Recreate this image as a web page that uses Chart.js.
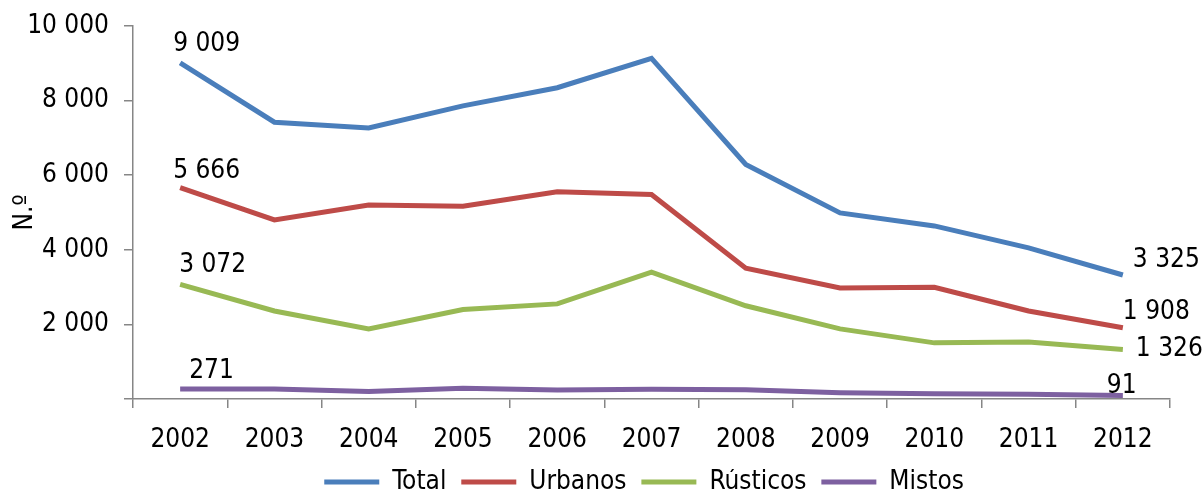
<!DOCTYPE html>
<html>
<head>
<meta charset="utf-8">
<script src="https://cdn.jsdelivr.net/npm/chart.js@4/dist/chart.umd.min.js"></script>
<style>
  html, body { margin: 0; padding: 0; background: #fff; }
  #wrap { width: 1203px; height: 495px; }
</style>
</head>
<body>
<div id="wrap"><canvas id="chart_predios" width="1203" height="495"></canvas></div>
<script>
// Data
var years = ['2002', '2003', '2004', '2005', '2006', '2007', '2008', '2009', '2010', '2011', '2012']
var total = [9009, 7420, 7265, 7860, 8345, 9135, 6290, 4990, 4640, 4050, 3325]
var urbanos = [5666, 4800, 5200, 5170, 5555, 5485, 3505, 2975, 2995, 2360, 1908]
var rusticos = [3072, 2360, 1880, 2400, 2550, 3400, 2500, 1880, 1505, 1530, 1326]
var mistos = [271, 265, 200, 285, 240, 260, 250, 170, 140, 130, 91]
var y_ticks = [0, 2000, 4000, 6000, 8000, 10000]

var colors = {
  blue: '#4A7EBB',
  red: '#BE4B48',
  green: '#98B954',
  purple: '#7D60A0',
  axis: '#868686'
}

var font_family = '"DejaVu Sans Condensed", "DejaVu Sans", sans-serif'
var font_size = 26

function fmt(n) {
  return String(n).replace(/\B(?=(\d{3})+(?!\d))/g, ' ')
}

// where the first / last value labels sit relative to their point
var label_offsets = [
  { first: [-7, -19], last: [10, -15] },
  { first: [-7, -16], last: [0, -16] },
  { first: [-1, -19], last: [13, 0] },
  { first: [9, -18], last: [-16, -9] }
]

var endLabels = {
  id: 'endLabels',
  afterDatasetsDraw(chart) {
    var ctx = chart.ctx
    ctx.save()
    ctx.font = font_size + 'px ' + font_family
    ctx.fillStyle = '#000'
    ctx.textAlign = 'left'
    ctx.textBaseline = 'middle'
    chart.data.datasets.forEach(function (ds, i) {
      var meta = chart.getDatasetMeta(i)
      var off = label_offsets[i]
      var p0 = meta.data[0]
      var pn = meta.data[meta.data.length - 1]
      ctx.fillText(fmt(ds.data[0]), p0.x + off.first[0], p0.y + off.first[1])
      ctx.fillText(fmt(ds.data[ds.data.length - 1]), pn.x + off.last[0], pn.y + off.last[1])
    })
    ctx.restore()
  }
}

function series(label, data, color) {
  return {
    label: label,
    data: data,
    borderColor: color,
    backgroundColor: color,
    borderWidth: 5,
    pointRadius: 0,
    tension: 0,
    fill: false
  }
}

var ctx = document.getElementById('chart_predios').getContext('2d')

var chart = new Chart(ctx, {
  type: 'line',
  data: {
    labels: years,
    datasets: [
      series('Total', total, colors.blue),
      series('Urbanos', urbanos, colors.red),
      series('Rústicos', rusticos, colors.green),
      series('Mistos', mistos, colors.purple)
    ]
  },
  plugins: [endLabels],
  options: {
    responsive: false,
    animation: false,
    layout: {
      padding: { top: 0, right: 33, left: 0, bottom: 0 }
    },
    plugins: {
      legend: {
        position: 'bottom',
        fullSize: false,
        maxHeight: 26,
        labels: {
          color: '#000',
          font: { family: font_family, size: font_size, lineHeight: 1 },
          boxWidth: 55,
          boxHeight: 5,
          padding: 0,
          generateLabels: function (c) {
            var items = Chart.defaults.plugins.legend.labels.generateLabels(c)
            items.forEach(function (it) {
              it.lineWidth = 0
              it.text = it.text + '  '
            })
            return items
          }
        }
      },
      tooltip: { enabled: false }
    },
    scales: {
      x: {
        offset: true,
        afterFit: function (scale) {
          scale.height = 70
        },
        grid: {
          offset: true,
          drawOnChartArea: false,
          color: colors.axis,
          lineWidth: 1.5,
          tickLength: 9
        },
        border: { color: colors.axis, width: 1.5 },
        ticks: {
          color: '#000',
          font: { family: font_family, size: font_size, lineHeight: 1 },
          padding: 19,
          maxRotation: 0
        }
      },
      y: {
        min: 0,
        max: 10000,
        afterBuildTicks: function (scale) {
          scale.ticks = y_ticks.map(function (v) { return { value: v } })
        },
        afterFit: function (scale) {
          scale.width = 133
          scale.paddingTop = 26
        },
        grid: {
          drawOnChartArea: false,
          color: colors.axis,
          lineWidth: 1.5,
          tickLength: 9
        },
        border: { color: colors.axis, width: 1.5 },
        ticks: {
          color: '#000',
          font: { family: font_family, size: font_size },
          padding: 15,
          callback: function (v) { return v === 0 ? '' : fmt(v) }
        },
        title: {
          display: true,
          text: 'N.º',
          color: '#000',
          font: { family: font_family, size: font_size },
          padding: 10
        }
      }
    }
  }
})
</script>
</body>
</html>
